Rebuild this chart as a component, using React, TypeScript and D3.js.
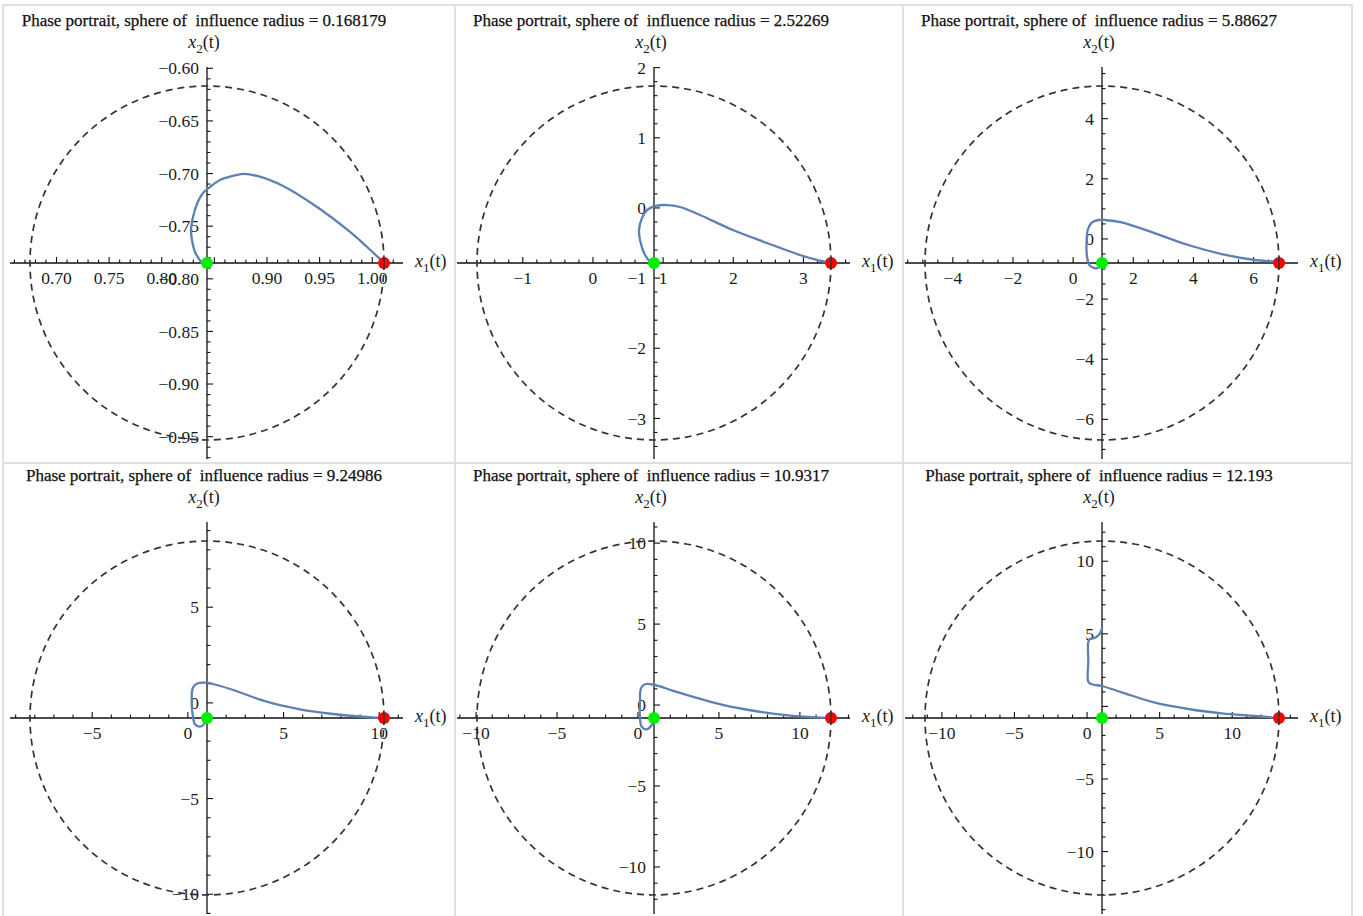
import { useEffect, useRef } from 'react';
import * as d3 from 'd3';

// sphere of influence radius, one per panel (row by row)
const radii = [0.168179, 2.52269, 5.88627, 9.24986, 10.9317, 12.193];

// where the axes cross (green point) in each panel
const originX = [0.843, 0.87, 0.96, 1.0, 0.99, 1.03];
const originY = [-0.785, -0.785, -0.8, -0.79, -0.8, -0.8];

// tick spacing
const majorSteps = [0.05, 1, 2, 5, 5, 5];
const minorSteps = [0.01, 0.2, 0.5, 1, 1, 1];

// labelled ticks (some ticks carry no label in the original)
const xTickLabels = [
  [0.7, 0.75, 0.8, 0.9, 0.95, 1.0],
  [-1, 0, 1, 2, 3],
  [-4, -2, 0, 2, 4, 6],
  [-5, 0, 5, 10],
  [-10, -5, 0, 5, 10],
  [-10, -5, 0, 5, 10],
];
const yTickLabels = [
  [-0.6, -0.65, -0.7, -0.75, -0.8, -0.85, -0.9, -0.95],
  [2, 1, 0, -1, -2, -3],
  [4, 2, 0, -2, -4, -6],
  [5, 0, -5, -10],
  [10, 5, 0, -5, -10],
  [10, 5, -5, -10],
];

// trajectories [x1, x2]
const traj1 = [
  [0.838, -0.785], [0.8316, -0.7745], [0.8287, -0.7631], [0.8278, -0.7536], [0.8297, -0.7413],
  [0.8335, -0.7289], [0.8392, -0.7185], [0.8459, -0.7128], [0.8554, -0.7061], [0.8677, -0.7023],
  [0.8772, -0.7004], [0.8905, -0.7023], [0.9152, -0.7118], [0.9476, -0.7318], [0.9789, -0.7555],
  [0.9951, -0.7698], [1.0103, -0.784],
];
const traj2 = [
  [0.82, -0.775], [0.742, -0.671], [0.671, -0.457], [0.656, -0.315], [0.699, -0.144],
  [0.77, -0.03], [0.884, 0.027], [1.055, 0.041], [1.24, 0.013], [1.525, -0.101],
  [1.995, -0.315], [2.48, -0.5], [2.95, -0.671], [3.192, -0.742], [3.391, -0.785],
];
const traj3 = [
  [0.95, -0.81], [0.784, -0.976], [0.538, -0.867], [0.451, -0.477], [0.451, -0.035],
  [0.484, 0.297], [0.617, 0.54], [0.837, 0.63], [1.06, 0.63], [1.615, 0.554],
  [2.723, 0.188], [3.83, -0.201], [4.94, -0.501], [6.048, -0.7], [6.823, -0.777], [6.846, -0.8],
];
const traj4 = [
  [0.984, -0.806], [0.843, -1.119], [0.634, -1.245], [0.373, -1.119], [0.253, -0.633],
  [0.201, 0.062], [0.253, 0.762], [0.462, 1.002], [0.984, 1.054], [1.507, 0.934],
  [2.374, 0.673], [4.119, 0.062], [5.859, -0.335], [7.599, -0.581], [9.344, -0.738],
  [10.18, -0.79], [10.25, -0.79],
];
const traj5 = [
  [1.009, -0.819], [0.848, -1.232], [0.539, -1.498], [0.23, -1.337], [0.125, -0.819],
  [0.125, 0.207], [0.187, 1.034], [0.434, 1.282], [1.052, 1.238], [2.083, 0.912],
  [3.109, 0.603], [5.172, 0.029], [7.228, -0.368], [9.285, -0.633], [11.348, -0.781],
  [11.92, -0.8],
];
const traj6 = [
  [1.051, 5.488], [0.892, 5.033], [0.548, 4.73], [0.204, 4.641], [0.086, 4.455],
  [0.086, 3.126], [0.086, 1.7], [0.321, 1.521], [1.009, 1.404], [2.387, 0.97],
  [4.68, 0.254], [6.974, -0.18], [9.274, -0.476], [11.567, -0.662], [13.172, -0.8],
];
const trajectories = [traj1, traj2, traj3, traj4, traj5, traj6];

const W = 1363;
const H = 916;
const colX = [207, 654, 1102];
const rowY = [263, 718];
const HALF = 196; // px from origin to the plot edge
const CIRCLE_PX = 177; // px radius of the dashed circle
const FONT = '"Liberation Serif", "Times New Roman", serif';

const multiples = (lo: number, hi: number, step: number) =>
  d3.range(Math.ceil(lo / step - 1e-6), Math.floor(hi / step + 1e-6) + 1).map(n => +(n * step).toFixed(6));

const App = () => {
  const svgRef = useRef<SVGSVGElement>(null);

  useEffect(() => {
    const svg = d3.select(svgRef.current);
    svg.selectAll('*').remove();
    svg.attr('width', W).attr('height', H);

    svg.append('rect').attr('width', W).attr('height', H).attr('fill', 'white');

    // cell frame
    const frame = svg.append('g').attr('stroke', '#e0e0e0').attr('stroke-width', 2);
    [3, 455, 903, 1352].forEach(x =>
      frame.append('line').attr('x1', x).attr('x2', x).attr('y1', 4).attr('y2', H));
    [5, 463].forEach(y =>
      frame.append('line').attr('x1', 2).attr('x2', 1353).attr('y1', y).attr('y2', y));

    radii.forEach((R, i) => {
      const cx = colX[i % 3];
      const cy = rowY[Math.floor(i / 3)];
      const k = (HALF / CIRCLE_PX) * R;
      const x0 = originX[i];
      const y0 = originY[i];

      const x = d3.scaleLinear().domain([x0 - k, x0 + k]).range([cx - HALF, cx + HALF]);
      const y = d3.scaleLinear().domain([y0 - k, y0 + k]).range([cy + HALF, cy - HALF]);

      const fmt = i === 0 ? d3.format('.2f') : d3.format('d');
      const g = svg.append('g');

      // title
      g.append('text')
        .attr('x', cx - 3)
        .attr('y', cy - 237)
        .attr('text-anchor', 'middle')
        .style('font-family', FONT)
        .style('font-size', '17px')
        .attr('fill', '#111')
        .attr('stroke', '#111')
        .attr('stroke-width', 0.25)
        .text(`Phase portrait, sphere of\u00a0 influence radius = ${R}`);

      // axes
      const axes = g.append('g').attr('stroke', '#111').attr('stroke-width', 1.3);
      axes.append('line')
        .attr('x1', x.range()[0] - 1).attr('x2', x.range()[1])
        .attr('y1', y(y0)).attr('y2', y(y0));
      axes.append('line')
        .attr('x1', x(x0)).attr('x2', x(x0))
        .attr('y1', y.range()[1]).attr('y2', y.range()[0]);

      const [xlo, xhi] = x.domain();
      const [ylo, yhi] = y.domain();
      const isMajor = (v: number) => Math.abs(v / majorSteps[i] - Math.round(v / majorSteps[i])) < 1e-6;

      multiples(xlo, xhi, minorSteps[i]).forEach(v => {
        const len = isMajor(v) ? 6 : 3.5;
        axes.append('line')
          .attr('stroke-width', 1.1)
          .attr('x1', x(v)).attr('x2', x(v))
          .attr('y1', y(y0)).attr('y2', y(y0) - len);
      });
      multiples(ylo, yhi, minorSteps[i]).forEach(v => {
        const len = isMajor(v) ? 6 : 3.5;
        axes.append('line')
          .attr('stroke-width', 1.1)
          .attr('x1', x(x0)).attr('x2', x(x0) + len)
          .attr('y1', y(v)).attr('y2', y(v));
      });

      // tick labels
      g.selectAll('text.xt')
        .data(xTickLabels[i])
        .enter()
        .append('text')
        .attr('class', 'xt')
        .attr('x', d => x(d))
        .attr('y', y(y0) + 15)
        .attr('dy', '0.35em')
        .attr('text-anchor', 'middle')
        .style('font-family', FONT)
        .style('font-size', '17.5px')
        .attr('fill', '#1a1a1a')
        .text(d => fmt(d));

      g.selectAll('text.yt')
        .data(yTickLabels[i])
        .enter()
        .append('text')
        .attr('class', 'yt')
        .attr('x', x(x0) - 8)
        .attr('y', d => y(d))
        .attr('dy', '0.35em')
        .attr('text-anchor', 'end')
        .style('font-family', FONT)
        .style('font-size', '17.5px')
        .attr('fill', '#1a1a1a')
        .text(d => fmt(d));

      // axis labels x2(t) and x1(t)
      const x2 = g.append('text')
        .attr('x', cx - 3)
        .attr('y', cy - 215)
        .attr('text-anchor', 'middle')
        .style('font-family', FONT)
        .style('font-size', '18px')
        .attr('fill', '#1a1a1a');
      x2.append('tspan').style('font-style', 'italic').text('x');
      x2.append('tspan').attr('dy', 5).style('font-size', '13px').text('2');
      x2.append('tspan').attr('dy', -5).text('(t)');

      const x1 = g.append('text')
        .attr('x', cx + 208)
        .attr('y', y(y0) + 4)
        .style('font-family', FONT)
        .style('font-size', '18px')
        .attr('fill', '#1a1a1a');
      x1.append('tspan').style('font-style', 'italic').text('x');
      x1.append('tspan').attr('dy', 5).style('font-size', '13px').text('1');
      x1.append('tspan').attr('dy', -5).text('(t)');

      // trajectory
      const line = d3.line<number[]>()
        .x(d => x(d[0]))
        .y(d => y(d[1]))
        .curve(d3.curveCatmullRom.alpha(0.5));
      g.append('path')
        .attr('d', line(trajectories[i]))
        .attr('fill', 'none')
        .attr('stroke', '#5e81b5')
        .attr('stroke-width', 2.3)
        .attr('stroke-linejoin', 'round');

      // start / end points
      g.append('circle')
        .attr('cx', x(x0)).attr('cy', y(y0)).attr('r', 6)
        .attr('fill', '#00ee00');
      g.append('circle')
        .attr('cx', x(x0 + R)).attr('cy', y(y0)).attr('r', 6)
        .attr('fill', '#ff0000');

      // sphere of influence
      g.append('ellipse')
        .attr('cx', x(x0)).attr('cy', y(y0))
        .attr('rx', x(x0 + R) - x(x0))
        .attr('ry', y(y0) - y(y0 + R))
        .attr('fill', 'none')
        .attr('stroke', '#333')
        .attr('stroke-width', 1.7)
        .attr('stroke-dasharray', '7 5');
    });
  }, []);

  return (
    <svg ref={svgRef} style={{ position: 'absolute', left: 0, top: 0, display: 'block' }}></svg>
  );
};

export default App;
